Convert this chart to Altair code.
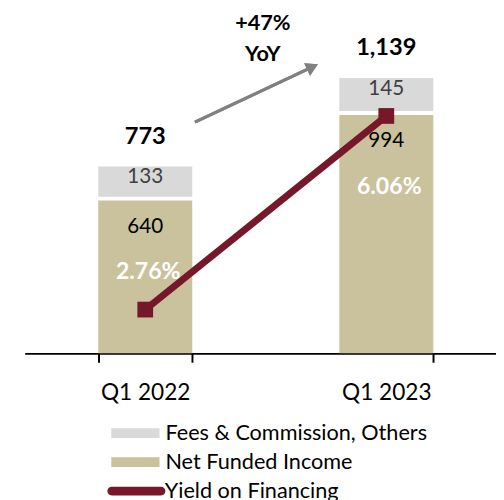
import altair as alt
import pandas as pd

# ---- data ----
quarters = ["Q1 2022", "Q1 2023"]
net_funded = [640, 994]
fees = [133, 145]
yield_pct = [2.76, 6.06]
series_names = ["Fees & Commission, Others", "Net Funded Income"]
line_name = "Yield on Financing"

totals = [n + f for n, f in zip(net_funded, fees)]
yoy = totals[1] / totals[0] - 1
yoy_lines = [f"+{yoy*100:.0f}%", "YoY"]

rows = []
for q, n, f in zip(quarters, net_funded, fees):
    rows.append({"quarter": q, "series": "Net Funded Income", "start": 0, "end": n, "val": n})
    rows.append({"quarter": q, "series": "Fees & Commission, Others", "start": n, "end": n + f, "val": f})
bars_df = pd.DataFrame(rows)
tot_df = pd.DataFrame({"quarter": quarters, "total": totals, "net": net_funded,
                       "yld": yield_pct, "yld_label": [f"{v:.2f}%" for v in yield_pct]})
line_df = pd.DataFrame({"quarter": quarters, "yld": yield_pct, "series": [line_name] * 2})

FONT = "Lato"
TAN = "#c9c29d"
GREY = "#d9d9d9"
MAROON = "#76182a"

xscale = alt.Scale(domain=quarters, range=[0, 490], paddingInner=0.61, paddingOuter=0.305)
yscale = alt.Scale(domain=[0, 1411.7], nice=False, zero=False)
y2scale = alt.Scale(domain=[2.014, 7.832], nice=False, zero=False)

x_enc = alt.X("quarter:N", scale=xscale, sort=quarters, title=None,
              axis=alt.Axis(domainColor="black", domainWidth=2, tickColor="black", tickWidth=2,
                            tickSize=9, tickBand="extent", labelFont=FONT, labelFontSize=23,
                            labelColor="black", labelAngle=0, labelBaseline="alphabetic",
                            labelPadding=38, grid=False))

rect_path = "M-4.9,-1L4.9,-1L4.9,1L-4.9,1Z"
line_path = ("M-5.0,-0.9L5.0,-0.9A0.9,0.9 0 0 1 5.0,0.9L-5.0,0.9A0.9,0.9 0 0 1 -5.0,-0.9Z"
             "M-0.75,-0.8L0.75,-0.8L0.75,0.8L-0.75,0.8Z")

fill_enc = alt.Fill("series:N",
                    scale=alt.Scale(domain=series_names, range=[GREY, TAN]),
                    legend=alt.Legend(title=None, orient="none", legendX=101.5, legendY=417,
                                      symbolType=rect_path, symbolSize=100, symbolStrokeWidth=0,
                                      labelFont=FONT, labelFontSize=22, labelColor="black",
                                      labelOffset=19.5, rowPadding=7.5, labelLimit=400))

net_bar = alt.Chart(bars_df).transform_filter(
    alt.datum.series == "Net Funded Income").mark_bar(yOffset=2).encode(
    x=x_enc,
    y=alt.Y("end:Q", scale=yscale, axis=None),
    y2="start:Q",
    fill=fill_enc,
)
fee_bar = alt.Chart(bars_df).transform_filter(
    alt.datum.series == "Fees & Commission, Others").mark_bar(y2Offset=-2).encode(
    x=x_enc,
    y=alt.Y("end:Q", scale=yscale, axis=None),
    y2="start:Q",
    fill=fill_enc,
)

base_t = alt.Chart(tot_df)
fee_lbl = alt.Chart(bars_df).transform_filter(
    alt.datum.series == "Fees & Commission, Others").mark_text(
    font=FONT, fontSize=21, color="#404040", dy=11, baseline="middle").encode(
    x=alt.X("quarter:N", scale=xscale, sort=quarters),
    y=alt.Y("end:Q", scale=yscale, axis=None),
    text="val:Q")
net_lbl = alt.Chart(bars_df).transform_filter(
    alt.datum.series == "Net Funded Income").mark_text(
    font=FONT, fontSize=21, color="black", dy=29, baseline="middle").encode(
    x=alt.X("quarter:N", scale=xscale, sort=quarters),
    y=alt.Y("end:Q", scale=yscale, axis=None),
    text="val:Q")
tot_lbl = base_t.mark_text(font=FONT, fontSize=24, fontWeight="bold", color="black",
                           dy=-30, baseline="middle").encode(
    x=alt.X("quarter:N", scale=xscale, sort=quarters),
    y=alt.Y("total:Q", scale=yscale, axis=None),
    text=alt.Text("total:Q", format=","))

primary = alt.layer(net_bar, fee_bar, fee_lbl, net_lbl, tot_lbl)

line = alt.Chart(line_df).mark_line(strokeWidth=7).encode(
    x=alt.X("quarter:N", scale=xscale, sort=quarters),
    y=alt.Y("yld:Q", scale=y2scale, axis=None),
    stroke=alt.Stroke("series:N", scale=alt.Scale(domain=[line_name], range=[MAROON]),
                      legend=alt.Legend(title=None, orient="none", legendX=102.5, legendY=476,
                                        symbolType=line_path, symbolSize=100,
                                        symbolStrokeWidth=0, symbolFillColor=MAROON,
                                        labelFont=FONT, labelFontSize=22, labelColor="black",
                                        labelOffset=17.8, labelLimit=400)),
)
pts = alt.Chart(line_df).mark_square(size=256, color=MAROON, opacity=1).encode(
    x=alt.X("quarter:N", scale=xscale, sort=quarters),
    y=alt.Y("yld:Q", scale=y2scale, axis=None),
)
secondary = alt.layer(line, pts)

yld_lbl = base_t.mark_text(font=FONT, fontSize=23.5, fontWeight="bold", color="white",
                           dy=75, dx=3, baseline="middle").encode(
    x=alt.X("quarter:N", scale=xscale, sort=quarters),
    y=alt.Y("net:Q", scale=yscale, axis=None),
    text="yld_label:N")

# annotation: +47% YoY and arrow
ann_df = pd.DataFrame({"t": yoy_lines, "row": [0, 1]})
ann = alt.Chart(ann_df).mark_text(font=FONT, fontSize=22, fontWeight="bold", color="black",
                                  baseline="middle").encode(
    x=alt.value(242),
    y=alt.Y("row:Q", scale=alt.Scale(domain=[0, 1], range=[11, 43]), axis=None),
    text="t:N")
arrow_line = alt.Chart(ann_df).mark_rule(color="#808080", strokeWidth=3).encode(
    x=alt.value(173), y=alt.value(112), x2=alt.value(292), y2=alt.value(56))
arrow_head = alt.Chart(ann_df).mark_point(shape="triangle-up", size=196, filled=True,
                                          color="#808080", opacity=1, angle=64.9).encode(
    x=alt.value(292.5), y=alt.value(55.8))

chart = alt.layer(primary, secondary, yld_lbl, arrow_line, arrow_head, ann).resolve_scale(
    y="independent"
).properties(
    width=479, height=347,
    autosize=alt.AutoSizeParams(type="none"),
    padding={"left": 17, "top": 0, "right": 0, "bottom": 145},
).configure_view(stroke=None).configure_legend(symbolBaseFillColor=MAROON)

chart.save("out.html", embed_options={"renderer": "svg", "actions": False})
